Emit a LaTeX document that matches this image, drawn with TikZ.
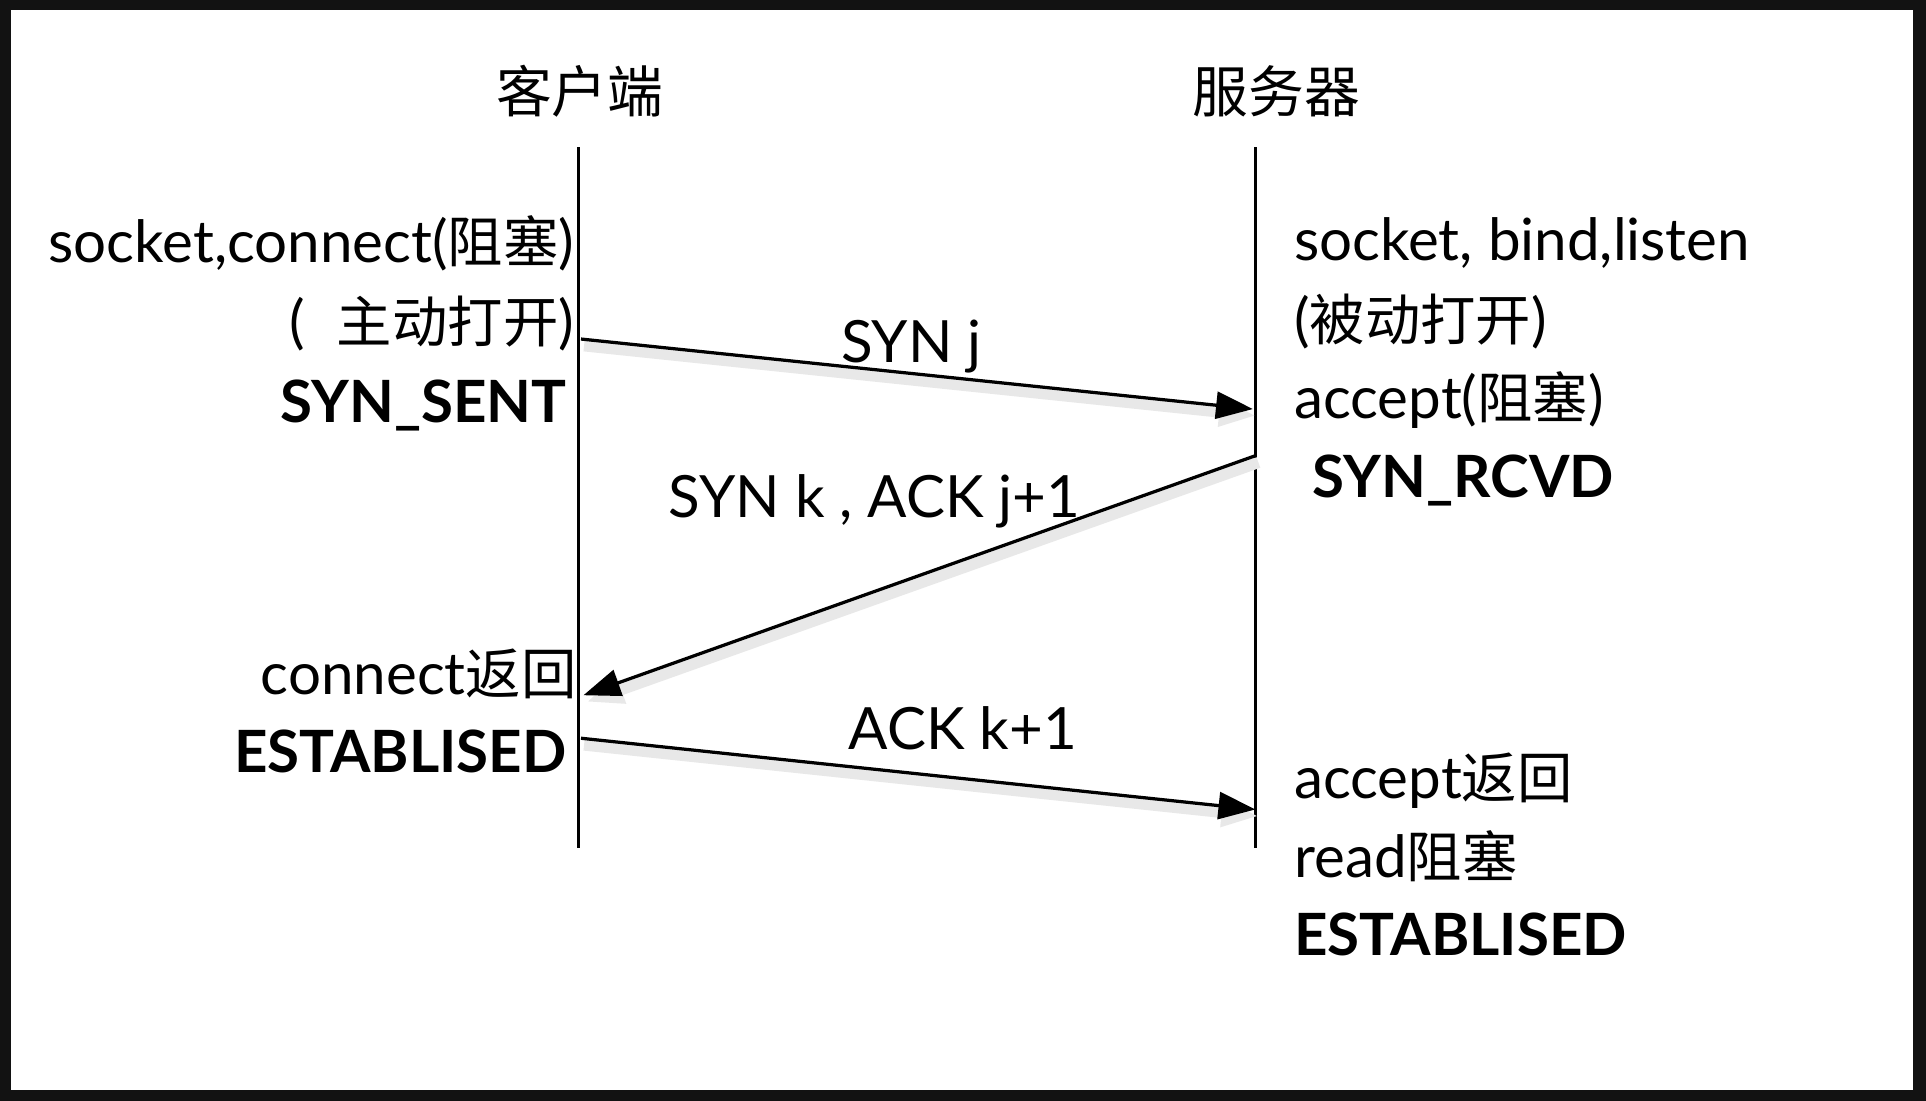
\documentclass[tikz,border=0pt]{standalone}
\usepackage{fontspec}
\setmainfont{Lato}
\newfontfamily\cjk{Noto Sans CJK SC}[Scale=0.95]
\usetikzlibrary{positioning,arrows.meta}
\newcommand\zh[1]{{\cjk #1}}
\tikzset{
  lifeline/.style={line width=0.55pt,draw=black},
  msg/.style={-{Triangle[length=3mm,width=2.2mm]},line width=0.75pt,draw=black,
    preaction={draw=black!9,line width=2.6pt,
      transform canvas={shift={(0.25mm,-0.55mm)}}}},
  hdr/.style={font={\cjk\fontsize{13.6}{16}\selectfont},inner sep=0pt},
  txt/.style={font=\fontsize{13.5}{16}\selectfont,inner sep=0pt},
  state/.style={font={\bfseries\fontsize{13.5}{16}\selectfont},inner sep=0pt},
  lbl/.style={font=\fontsize{13.5}{16}\selectfont,inner sep=0pt},
}
\begin{document}
\begin{tikzpicture}[x=0.1mm,y=-0.1mm]
  \useasboundingbox (0,0) rectangle (1568,896);
  % frame
  \fill[black!93] (0,0) rectangle (1568,896);
  \fill[white] (9,8) rectangle (1557,887);

  % two sides
  \node[hdr] (cli) at (472,74)  {客户端};
  \node[hdr] (srv) at (1039,74) {服务器};
  \coordinate (cTop) at (471,120);  \coordinate (cBot) at (471,690);
  \coordinate (sTop) at (1022,120); \coordinate (sBot) at (1022,690);
  \draw[lifeline] (cTop) -- (cBot);
  \draw[lifeline] (sTop) -- (sBot);

  % client side
  \node[txt,anchor=base east]   (c1) at (468,214) {socket,connect(\zh{阻塞})};
  \node[txt,anchor=base east]   (c2) at (468,279) {(\hspace{0.55em}\zh{主动打开})};
  \node[state,anchor=base east] (c3) at (462,344) {SYN\_SENT};
  \node[txt,anchor=base east]   (c4) at (470,565) {connect\zh{返回}};
  \node[state,anchor=base east] (c5) at (462,629) {ESTABLISED};

  % server side
  \node[txt,anchor=base west]   (s1) at (1053,212) {socket, bind,listen};
  \node[txt,anchor=base west]   (s2) at (1053,277) {(\zh{被动打开})};
  \node[txt,anchor=base west]   (s3) at (1053,341) {accept(\zh{阻塞})};
  \node[state,anchor=base west] (s4) at (1068,405) {SYN\_RCVD};
  \node[txt,anchor=base west]   (s5) at (1053,650) {accept\zh{返回}};
  \node[txt,anchor=base west]   (s6) at (1053,714) {read\zh{阻塞}};
  \node[state,anchor=base west] (s7) at (1053,778) {ESTABLISED};

  % handshake
  \coordinate (syn-a) at (473,276);  \coordinate (syn-b) at (1020,333);
  \coordinate (sa-a)  at (1022,371); \coordinate (sa-b)  at (475,566);
  \coordinate (ack-a) at (473,601);  \coordinate (ack-b) at (1022,659);
  \draw[msg] (syn-a) -- (syn-b);
  \draw[msg] (sa-a) -- (sa-b);
  \draw[msg] (ack-a) -- (ack-b);
  \node[lbl,anchor=base] (synj)   at (742,295) {SYN j};
  \node[lbl,anchor=base] (synack) at (712,421) {SYN k , ACK j+1};
  \node[lbl,anchor=base] (ackk)   at (784,610) {ACK k+1};
\end{tikzpicture}
\end{document}
